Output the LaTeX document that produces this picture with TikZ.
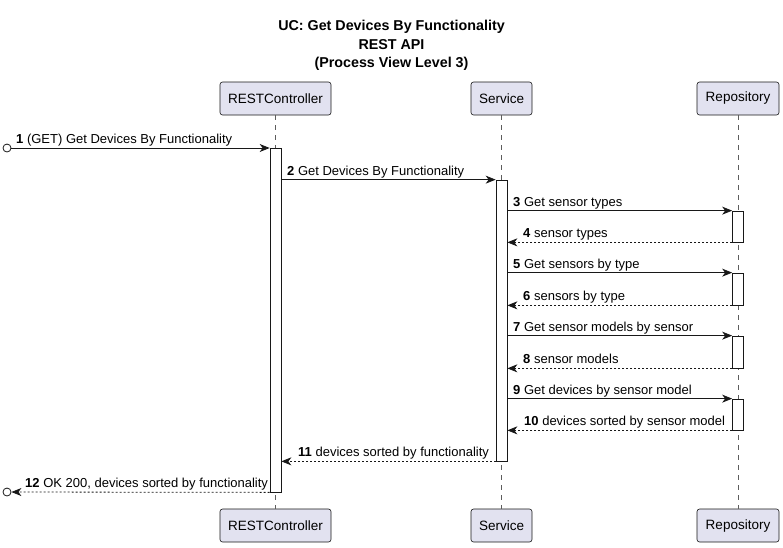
\documentclass[tikz,border=0pt]{standalone}
\usepackage{fontspec}
\setmainfont{Liberation Sans}
\usetikzlibrary{arrows.meta}
\definecolor{pfill}{HTML}{E2E2F0}
\definecolor{pline}{HTML}{181818}
\tikzset{
  part/.style={draw=pline, fill=pfill, rounded corners=2.5pt, line width=0.6pt, minimum height=33pt, inner xsep=0pt, font=\fontsize{13.5}{16}\selectfont},
  actbox/.style={draw=pline, fill=white, line width=0.7pt, minimum width=11pt, inner sep=0pt},
  life/.style={draw=pline!70, line width=0.5pt, dash pattern=on 5pt off 5pt},
  msg/.style={draw=pline, line width=0.8pt, -{Stealth[length=10pt,width=8pt,inset=3pt]}},
  ret/.style={msg, dash pattern=on 2pt off 2pt},
  lbl/.style={anchor=base west, inner sep=0pt, font=\fontsize{13}{15}\selectfont},
  endc/.style={circle, draw=pline, line width=0.8pt, fill=white, inner sep=0pt, minimum size=8pt},
  ttl/.style={font=\fontsize{14.3}{16}\selectfont\bfseries, inner sep=0pt, anchor=base}
}
\begin{document}
\begin{tikzpicture}[x=1pt,y=-1pt]
\useasboundingbox (0,0) rectangle (783,547);
% title
\node[ttl] (t1) at (391.5,30) {UC: Get Devices By Functionality};
\node[ttl] (t2) at (391.5,49) {REST API};
\node[ttl] (t3) at (391.5,67) {(Process View Level 3)};
% participants
\node[part, minimum width=111pt] (hRC) at (275.5,98.5) {RESTController};
\node[part, minimum width=61pt] (hSV) at (501.5,98.5) {Service};
\node[part, minimum width=82pt] (hRP) at (738,98.5) {Repository};
\node[part, minimum width=111pt] (fRC) at (275.5,525.5) {RESTController};
\node[part, minimum width=61pt] (fSV) at (501.5,525.5) {Service};
\node[part, minimum width=82pt] (fRP) at (738,525.5) {Repository};
% lifelines
\draw[life] (hRC.south) -- (fRC.north);
\draw[life] (hSV.south) -- (fSV.north);
\draw[life] (hRP.south) -- (fRP.north);
% activations
\node[actbox, minimum height=344pt] (aRC) at (275.5,320) {};
\node[actbox, minimum height=281pt] (aSV) at (501.5,320.5) {};
\node[actbox, minimum height=31pt] (r1) at (738,226.5) {};
\node[actbox, minimum height=32pt] (r2) at (738,289) {};
\node[actbox, minimum height=32pt] (r3) at (738,352) {};
\node[actbox, minimum height=31pt] (r4) at (738,414.5) {};
% end circles
\node[endc] (s1) at (7,148) {};
\node[endc] (s12) at (7,492) {};
% messages
\draw[msg] (s1) -- (s1 -| aRC.west);
\node[lbl] (l1) at (16,143) {\textbf{1} (GET) Get Devices By Functionality};
\draw[msg] (aRC.east |- aSV.north) -- (aSV.north west);
\node[lbl] (l2) at (287,175) {\textbf{2} Get Devices By Functionality};
\draw[msg] (aSV.east |- r1.north) -- (r1.north west);
\node[lbl] (l3) at (513,206) {\textbf{3} Get sensor types};
\draw[ret] (r1.south west) -- (aSV.east |- r1.south);
\node[lbl] (l4) at (523,237) {\textbf{4} sensor types};
\draw[msg] (aSV.east |- r2.north) -- (r2.north west);
\node[lbl] (l5) at (513,268) {\textbf{5} Get sensors by type};
\draw[ret] (r2.south west) -- (aSV.east |- r2.south);
\node[lbl] (l6) at (523,300) {\textbf{6} sensors by type};
\draw[msg] (aSV.east |- r3.north) -- (r3.north west);
\node[lbl] (l7) at (513,331) {\textbf{7} Get sensor models by sensor};
\draw[ret] (r3.south west) -- (aSV.east |- r3.south);
\node[lbl] (l8) at (523,363) {\textbf{8} sensor models};
\draw[msg] (aSV.east |- r4.north) -- (r4.north west);
\node[lbl] (l9) at (513,394) {\textbf{9} Get devices by sensor model};
\draw[ret] (r4.south west) -- (aSV.east |- r4.south);
\node[lbl] (l10) at (524,425) {\textbf{10} devices sorted by sensor model};
\draw[ret] (aSV.south west) -- (aRC.east |- aSV.south);
\node[lbl] (l11) at (298,456) {\textbf{11} devices sorted by functionality};
\draw[ret] (aRC.south west) -- (s12);
\node[lbl] (l12) at (25,487) {\textbf{12} OK 200, devices sorted by functionality};
\end{tikzpicture}
\end{document}
